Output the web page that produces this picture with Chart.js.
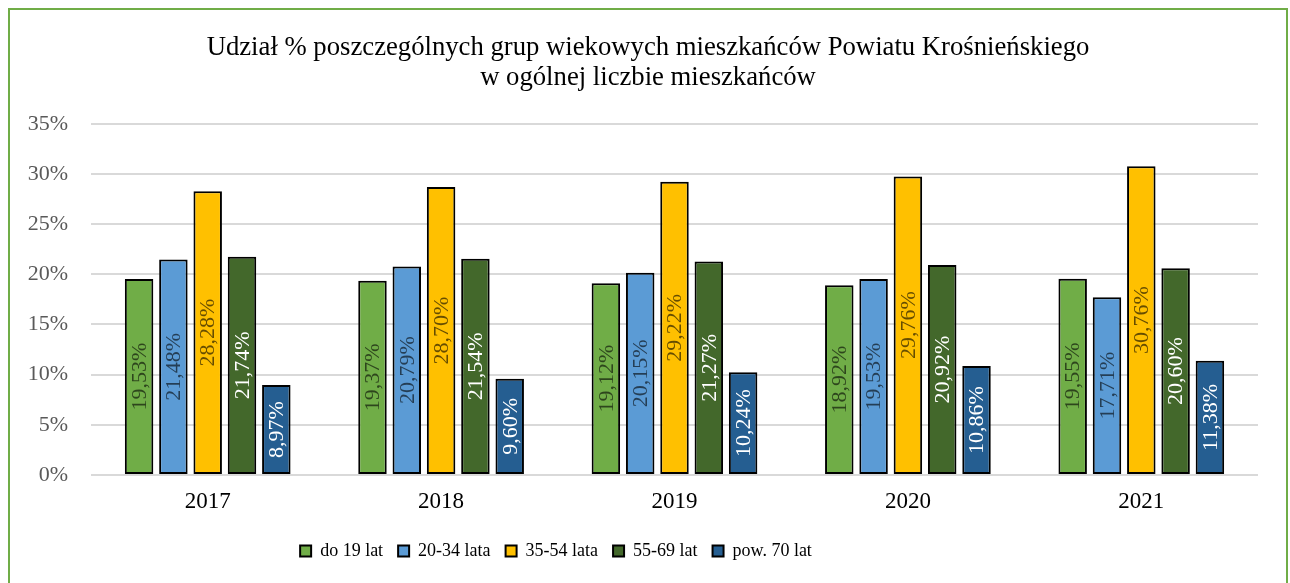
<!DOCTYPE html>
<html lang="pl">
<head>
    <meta charset="UTF-8">
    <title>Udział % grup wiekowych</title>
    <script src="https://cdn.jsdelivr.net/npm/chart.js"></script>
    <style>
        body { margin: 0; background: #fff; overflow: hidden; }
        #wrap { position: relative; width: 1290px; height: 583px; }
        #frame {
            position: absolute; left: 8px; top: 8px;
            width: 1276px; height: 620px;
            border: 2.5px solid #70AD47; pointer-events: none;
        }
    </style>
</head>
<body>
<div id="wrap">
    <canvas id="ageChart" width="1290" height="583"></canvas>
    <div id="frame"></div>
</div>
<script>
    // Dane
    const years = ['2017', '2018', '2019', '2020', '2021'];
    const do19 = [19.53, 19.37, 19.12, 18.92, 19.55];
    const lat20_34 = [21.48, 20.79, 20.15, 19.53, 17.71];
    const lat35_54 = [28.28, 28.70, 29.22, 29.76, 30.76];
    const lat55_69 = [21.74, 21.54, 21.27, 20.92, 20.60];
    const pow70 = [8.97, 9.60, 10.24, 10.86, 11.38];
    const yTicks = [0, 5, 10, 15, 20, 25, 30, 35];

    const serif = "'Liberation Serif', 'Times New Roman', serif";

    // etykiety danych obrócone o 90 stopni, na środku słupka
    const barLabels = {
        id: 'barLabels',
        afterLayout(chart) {
            // legenda w oryginale jest przesunięta w lewo
            const lg = chart.legend;
            const shift = 556 - (lg.left + lg.right) / 2;
            lg.left += shift;
            lg.right += shift;
        },
        afterDatasetsDraw(chart) {
            const ctx = chart.ctx;
            chart.data.datasets.forEach((ds, i) => {
                const meta = chart.getDatasetMeta(i);
                meta.data.forEach((bar, j) => {
                    const txt = ds.data[j].toFixed(2).replace('.', ',') + '%';
                    const cy = (bar.y + bar.base) / 2;
                    ctx.save();
                    ctx.translate(bar.x, cy);
                    ctx.rotate(-Math.PI / 2);
                    ctx.font = '22px ' + serif;
                    ctx.fillStyle = ds.labelColor;
                    ctx.textAlign = 'center';
                    ctx.textBaseline = 'middle';
                    ctx.fillText(txt, 0, 1);
                    ctx.restore();
                });
            });
        }
    };

    function makeSet(label, data, color, labelColor) {
        return {
            label: label,
            data: data,
            backgroundColor: color,
            borderColor: '#000',
            borderWidth: 2,
            borderSkipped: false,
            labelColor: labelColor,
            categoryPercentage: 0.735,
            barPercentage: 0.83
        };
    }

    const ctx = document.getElementById('ageChart').getContext('2d');
    new Chart(ctx, {
        type: 'bar',
        data: {
            labels: years,
            datasets: [
                makeSet('do 19 lat', do19, '#70AD47', 'rgba(0,0,0,0.6)'),
                makeSet('20-34 lata', lat20_34, '#5B9BD5', 'rgba(0,0,0,0.6)'),
                makeSet('35-54 lata', lat35_54, '#FFC000', 'rgba(0,0,0,0.6)'),
                makeSet('55-69 lat', lat55_69, '#43682B', '#FFFFFF'),
                makeSet('pow. 70 lat', pow70, '#255E91', '#FFFFFF')
            ]
        },
        options: {
            responsive: false,
            animation: false,
            layout: { padding: { left: 6, right: 0, top: 0, bottom: 13 } },
            plugins: {
                title: {
                    display: true,
                    text: ['Udział % poszczególnych grup wiekowych mieszkańców Powiatu Krośnieńskiego',
                           'w ogólnej liczbie mieszkańców'],
                    color: '#000',
                    font: { family: serif, size: 26.7, weight: 'normal', lineHeight: 1.12 },
                    padding: { top: 33, bottom: 31 }
                },
                legend: {
                    position: 'bottom',
                    labels: {
                        color: '#000',
                        font: { family: serif, size: 18 },
                        boxWidth: 11,
                        boxHeight: 11,
                        padding: 15
                    }
                },
                tooltip: { enabled: false }
            },
            scales: {
                x: {
                    grid: { display: false, drawTicks: false },
                    border: { display: false },
                    ticks: { color: '#000', font: { family: serif, size: 23 }, padding: 13 },
                    afterFit(scale) { scale.height = 52; }
                },
                y: {
                    min: 0,
                    max: 35,
                    grid: { color: '#D9D9D9', lineWidth: 2, drawTicks: false },
                    border: { display: false },
                    afterBuildTicks(scale) { scale.ticks = yTicks.map(v => ({ value: v })); },
                    ticks: {
                        color: '#595959',
                        font: { family: serif, size: 22 },
                        padding: 23,
                        callback: v => v + '%'
                    },
                    afterFit(scale) { scale.width = 85; }
                },
                // pusta oś po prawej - tylko jako margines
                yRight: {
                    type: 'linear',
                    position: 'right',
                    grid: { display: false, drawTicks: false },
                    border: { display: false },
                    ticks: { display: false },
                    afterFit(scale) { scale.width = 32; }
                }
            }
        },
        plugins: [barLabels]
    });
</script>
</body>
</html>
